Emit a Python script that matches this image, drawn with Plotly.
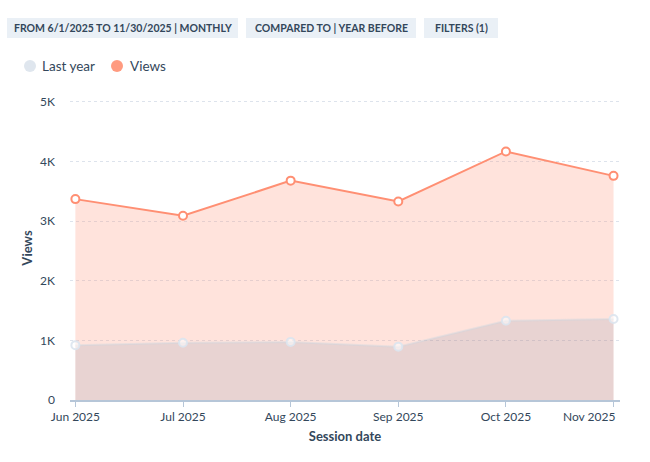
import plotly.graph_objects as go

months = ["Jun 2025", "Jul 2025", "Aug 2025", "Sep 2025", "Oct 2025", "Nov 2025"]
views = [3370, 3090, 3680, 3330, 4170, 3760]
last_year = [920, 960, 975, 895, 1330, 1360]
y_ticks = [0, 1000, 2000, 3000, 4000, 5000]
y_tick_labels = ["0", "1K", "2K", "3K", "4K", "5K"]
buttons = ["FROM 6/1/2025 TO 11/30/2025 | MONTHLY", "COMPARED TO | YEAR BEFORE", "FILTERS (1)"]
legend_names = ["Last year", "Views"]

FONT = "Lato"
TXT = "#33475b"
YMAX = 5100
L, R, B = 70, 30, 62
H = round(298 * YMAX / 5000)
T = 462 - B - H
W = 650 - L - R

def fx(px):
    return (px - L) / W

def fy(py):
    return (T + H - py) / H

# the last tick label is drawn right-aligned to the plot edge (as in the source chart)
x_tick_text = months[:-1] + [""]

fig = go.Figure()
fig.add_trace(go.Scatter(
    x=months, y=views, name="Views", mode="lines+markers",
    line=dict(color="#ff8f73", width=2),
    fill="tozeroy", fillcolor="rgba(255,143,115,0.25)",
    marker=dict(size=8, color="white", line=dict(color="#ff8f73", width=2)),
    showlegend=False,
))
fig.add_trace(go.Scatter(
    x=months, y=last_year, name="Last year", mode="lines+markers",
    line=dict(color="rgba(203,214,226,0.4)", width=2),
    fill="tozeroy", fillcolor="rgba(81,111,144,0.13)",
    marker=dict(size=8, color="rgba(255,255,255,0.55)", line=dict(color="rgba(220,228,238,0.9)", width=2)),
    showlegend=False,
))

shapes = []
annotations = []
btn_boxes = [(7, 238), (246, 416), (424, 498)]
for (x0, x1), label in zip(btn_boxes, buttons):
    shapes.append(dict(type="rect", xref="paper", yref="paper",
                       x0=fx(x0), x1=fx(x1), y0=fy(38), y1=fy(18),
                       fillcolor="#eaf0f6", line=dict(width=0), layer="below"))
    annotations.append(dict(xref="paper", yref="paper", x=fx((x0 + x1) / 2), y=fy(28.5),
                            text="<b>%s</b>" % label, showarrow=False,
                            xanchor="center", yanchor="middle",
                            font=dict(family=FONT, size=10.5, color=TXT)))
leg = [(30, 40, "#dfe6ee"), (117, 128, "#ff9b80")]
for (cx, tx, col), name in zip(leg, legend_names):
    shapes.append(dict(type="circle", xref="paper", yref="paper",
                       x0=fx(cx - 6), x1=fx(cx + 6), y0=fy(72), y1=fy(60),
                       fillcolor=col, line=dict(width=0)))
    annotations.append(dict(xref="paper", yref="paper", x=fx(tx), y=fy(66.5),
                            text=name, showarrow=False, xanchor="left", yanchor="middle",
                            font=dict(family=FONT, size=13.5, color=TXT)))
annotations.append(dict(xref="paper", yref="paper", x=fx(617), y=fy(416),
                        text=months[-1], showarrow=False, xanchor="right", yanchor="middle",
                        font=dict(family=FONT, size=12, color=TXT)))

fig.update_layout(
    width=650, height=462,
    margin=dict(l=L, r=R, t=T, b=B, autoexpand=False),
    paper_bgcolor="white", plot_bgcolor="white",
    font=dict(family=FONT, size=12, color=TXT),
    shapes=shapes, annotations=annotations,
    hovermode=False,
)
fig.update_xaxes(
    type="category", range=[-0.05, 5.06], automargin=False,
    tickvals=months, ticktext=x_tick_text,
    showgrid=False, showline=True, linecolor="#b6c6d8", linewidth=2,
    ticks="outside", ticklen=5, tickcolor="#b6c6d8", tickwidth=1,
    tickfont=dict(family=FONT, size=12, color=TXT),
    title=dict(text="<b>Session date</b>", font=dict(family=FONT, size=13, color=TXT), standoff=8),
)
fig.update_yaxes(
    range=[0, YMAX], tickvals=y_ticks, ticktext=y_tick_labels, automargin=False,
    showgrid=True, gridcolor="#dde3ec", griddash="3px,3px", gridwidth=1,
    zeroline=False, showline=False, ticks="", ticklabelstandoff=14,
    tickfont=dict(family=FONT, size=12, color=TXT),
    title=dict(text="<b>Views</b>", font=dict(family=FONT, size=13, color=TXT), standoff=4),
)

fig.write_html("out.html")
